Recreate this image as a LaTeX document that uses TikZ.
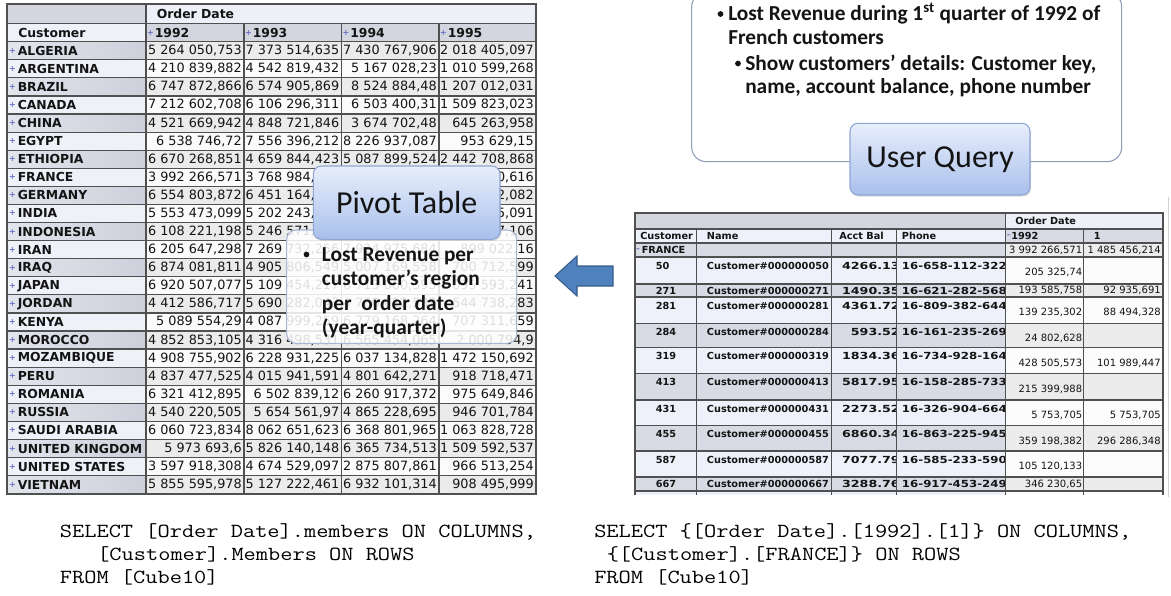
\documentclass[tikz,border=0pt]{standalone}
\usepackage{fontspec}
\usepackage{graphicx}
\usetikzlibrary{shadows}
\newfontfamily\tabfont{DejaVu Sans}
\newfontfamily\calfont{Carlito}

\definecolor{tabrulec}{HTML}{505050}
\definecolor{hdrgrey}{HTML}{D3D5DF}
\definecolor{hdrlight}{HTML}{EEF0F8}
\definecolor{custlight}{HTML}{EFF1F9}
\definecolor{custdarkL}{HTML}{E3E5ED}
\definecolor{custdarkR}{HTML}{CDCFDA}
\definecolor{datagrey}{HTML}{EBEBEB}
\definecolor{datawhite}{HTML}{FBFBFB}
\definecolor{rowlight}{HTML}{EFF1FA}
\definecolor{rowgrey}{HTML}{D8DAE4}
\definecolor{valwhite}{HTML}{FCFCFC}
\definecolor{valgrey}{HTML}{ECECEC}
\definecolor{markblue}{HTML}{6A72C6}
\definecolor{inktext}{HTML}{141414}
\definecolor{arrowfill}{HTML}{4F81BD}
\definecolor{arrowline}{HTML}{385D8A}
\definecolor{titletop}{HTML}{E8EEFB}
\definecolor{titlebot}{HTML}{A9C0EC}
\definecolor{titleline}{HTML}{8EA6D3}
\definecolor{noteline}{HTML}{A7B6D2}
\definecolor{queryline}{HTML}{8E9DB8}
\definecolor{scrollc}{HTML}{D0D0D0}

\tikzset{
  tabrule/.style={draw=tabrulec, line width=0.9pt},
  tabframe/.style={draw=tabrulec, line width=1.4pt},
  cname/.style={font=\tabfont\bfseries\fontsize{9.3}{11}\selectfont, text=inktext, inner sep=0pt, anchor=west},
  cval/.style={font=\tabfont\fontsize{9.6}{11}\selectfont, text=inktext, inner sep=0pt, anchor=east},
  cmark/.style={font=\tabfont\bfseries\fontsize{6}{7}\selectfont, text=markblue, inner sep=0pt},
  rbold/.style={font=\tabfont\bfseries\fontsize{7.3}{9}\selectfont, text=inktext, inner sep=0pt},
  rval/.style={font=\tabfont\fontsize{7.5}{9}\selectfont, text=inktext, inner sep=0pt, anchor=east},
  titlebox/.style={rounded corners=6pt, top color=titletop, bottom color=titlebot, draw=titleline, line width=0.8pt,
    drop shadow={shadow xshift=0.8pt, shadow yshift=-1.2pt, opacity=0.25}},
  titletext/.style={font=\calfont\fontsize{24}{28}\selectfont, text=inktext, inner sep=0pt},
  notebox/.style={rounded corners=7pt, fill=white, fill opacity=0.86, draw=noteline, line width=0.8pt},
  notetext/.style={font=\calfont\bfseries\fontsize{16}{19}\selectfont, text=inktext, inner sep=0pt, anchor=base west},
  notedot/.style={circle, fill=inktext, inner sep=0pt, minimum size=4.3pt},
  codeline/.style={font=\ttfamily\fontsize{15}{18}\selectfont, text=black, inner sep=0pt, anchor=base west},
}

\begin{document}
\begin{tikzpicture}[x=0.75pt,y=-0.75pt]
\useasboundingbox (0,0) rectangle (1171,596);
\fill[white] (0,0) rectangle (1171,596);

% ---------------- pivot table: customers by year ----------------
\fill[hdrgrey] (7,4) rectangle (146,23.3);
\fill[hdrlight] (146,4) rectangle (536,23.3);
\fill[custlight] (7,23.3) rectangle (146,41.7);
\fill[hdrgrey] (146,23.3) rectangle (536,41.7);
\fill[custlight] (7,41.7) rectangle (146,493.7);
\fill[datawhite] (146,41.7) rectangle (536,493.7);
\foreach \i in {0,2,...,24}{
  \fill[left color=custdarkL, right color=custdarkR] (7,{41.7+\i*18.08}) rectangle (146,{41.7+(\i+1)*18.08});
  \fill[datagrey] (146,{41.7+\i*18.08}) rectangle (536,{41.7+(\i+1)*18.08});
}
\foreach \i in {0,...,25} \draw[tabrule] (7,{41.7+\i*18.08}) -- (536,{41.7+\i*18.08});
\draw[tabrule] (7,23.3) -- (536,23.3);
\draw[tabrule] (146,4) -- (146,493.7);
\foreach \x in {244,341.5,439} \draw[tabrule] (\x,23.3) -- (\x,493.7);
\draw[tabframe] (7,4) rectangle (536,493.7);

\node[cname] (hdrdate) at (156.5,13.6) {Order Date};
\node[cname] (hdrcust) at (18,32.5) {Customer};
\foreach \yr/\x [count=\k] in {1992/146,1993/244,1994/341.5,1995/439}{
  \node[cmark] (ym\k) at (\x+4.5,32.5) {+};
  \node[cname] (yr\k) at (\x+8.5,32.5) {\yr};
}

\foreach \cn/\va/\vb/\vc/\vd [count=\i from 0] in {
  ALGERIA/{5 264 050,753}/{7 373 514,635}/{7 430 767,906}/{2 018 405,097},
  ARGENTINA/{4 210 839,882}/{4 542 819,432}/{5 167 028,23}/{1 010 599,268},
  BRAZIL/{6 747 872,866}/{6 574 905,869}/{8 524 884,48}/{1 207 012,031},
  CANADA/{7 212 602,708}/{6 106 296,311}/{6 503 400,31}/{1 509 823,023},
  CHINA/{4 521 669,942}/{4 848 721,846}/{3 674 702,48}/{645 263,958},
  EGYPT/{6 538 746,72}/{7 556 396,212}/{8 226 937,087}/{953 629,15},
  ETHIOPIA/{6 670 268,851}/{4 659 844,423}/{5 087 899,524}/{2 442 708,868},
  FRANCE/{3 992 266,571}/{3 768 984,732}/{4 512 063,415}/{2 121 340,616},
  GERMANY/{6 554 803,872}/{6 451 164,506}/{5 302 118,946}/{1 374 012,082},
  INDIA/{5 553 473,099}/{5 202 243,318}/{6 080 507,162}/{1 215 605,091},
  INDONESIA/{6 108 221,198}/{5 246 571,877}/{6 412 350,725}/{1 387 227,106},
  IRAN/{6 205 647,298}/{7 269 732,256}/{7 924 975,684}/{899 022,16},
  IRAQ/{6 874 081,811}/{4 905 806,549}/{5 007 169,558}/{700 712,599},
  JAPAN/{6 920 507,077}/{5 109 454,217}/{6 713 060,395}/{1 095 593,241},
  JORDAN/{4 412 586,717}/{5 690 282,043}/{4 780 612,539}/{544 738,283},
  KENYA/{5 089 554,29}/{4 087 999,259}/{6 779 168,264}/{707 311,659},
  MOROCCO/{4 852 853,105}/{4 316 498,531}/{6 565 454,065}/{2 000 794,9},
  MOZAMBIQUE/{4 908 755,902}/{6 228 931,225}/{6 037 134,828}/{1 472 150,692},
  PERU/{4 837 477,525}/{4 015 941,591}/{4 801 642,271}/{918 718,471},
  ROMANIA/{6 321 412,895}/{6 502 839,12}/{6 260 917,372}/{975 649,846},
  RUSSIA/{4 540 220,505}/{5 654 561,97}/{4 865 228,695}/{946 701,784},
  SAUDI ARABIA/{6 060 723,834}/{8 062 651,623}/{6 368 801,965}/{1 063 828,728},
  UNITED KINGDOM/{5 973 693,6}/{5 826 140,148}/{6 365 734,513}/{1 509 592,537},
  UNITED STATES/{3 597 918,308}/{4 674 529,097}/{2 875 807,861}/{966 513,254},
  VIETNAM/{5 855 595,978}/{5 127 222,461}/{6 932 101,314}/{908 495,999}}{
  \pgfmathsetmacro{\yc}{50.74+\i*18.08}
  \node[cmark] (lm\i) at (12.5,\yc) {+};
  \node[cname] (ln\i) at (17.5,\yc) {\cn};
  \node[cval] (la\i) at (242,\yc) {\va};
  \node[cval] (lb\i) at (339.5,\yc) {\vb};
  \node[cval] (lc\i) at (437,\yc) {\vc};
  \node[cval] (ld\i) at (534,\yc) {\vd};
}

% ---------------- detail table: French customers ----------------
\fill[hdrgrey] (635,213) rectangle (1005.3,229);
\fill[hdrlight] (1005.3,213) rectangle (1163,229);
\fill[rowlight] (635,229) rectangle (1005.3,243);
\fill[rowgrey] (1005.3,229) rectangle (1163,243);
\fill[rowgrey] (635,243) rectangle (1005.3,257);
\fill[valgrey] (1005.3,243) rectangle (1163,257);
\fill[rowlight] (635,491) rectangle (1005.3,495);
\fill[valwhite] (1005.3,491) rectangle (1163,495);

\node[rbold, anchor=west] (rhdate) at (1015,221) {Order Date};
\node[rbold, anchor=west] (rhcust) at (640,236) {Customer};
\node[rbold, anchor=west] (rhname) at (706.7,236) {Name};
\node[rbold, anchor=east] (rhbal) at (884,236) {Acct Bal};
\node[rbold, anchor=west] (rhphone) at (901.7,236) {Phone};
\node[cmark] (rhyminus) at (1008.5,236) {-};
\node[rbold, anchor=west] (rhyear) at (1011,236) {1992};
\node[rbold, anchor=west] (rhq) at (1093.5,236) {1};
\node[cmark] (rfminus) at (638,250) {-};
\node[rbold, anchor=west] (rfrance) at (641.5,250) {FRANCE};
\node[rval] (rfy) at (1082.5,250) {3 992 266,571};
\node[rval] (rfq) at (1161,250) {1 485 456,214};

\foreach \rk/\rn/\ra/\rp/\rv/\rw/\rt/\rb/\rf/\rg [count=\j] in {
  50/Customer\#000000050/4266.13/16-658-112-3221/{205 325,74}/{}/257/284/rowlight/valwhite,
  271/Customer\#000000271/1490.35/16-621-282-5689/{193 585,758}/{92 935,691}/284/297/rowgrey/valgrey,
  281/Customer\#000000281/4361.72/16-809-382-6446/{139 235,302}/{88 494,328}/297/323.3/rowlight/valwhite,
  284/Customer\#000000284/593.52/16-161-235-2690/{24 802,628}/{}/323.3/347.5/rowgrey/valgrey,
  319/Customer\#000000319/1834.36/16-734-928-1642/{428 505,573}/{101 989,447}/347.5/373.5/rowlight/valwhite,
  413/Customer\#000000413/5817.95/16-158-285-7336/{215 399,988}/{}/373.5/400/rowgrey/valgrey,
  431/Customer\#000000431/2273.52/16-326-904-6643/{5 753,705}/{5 753,705}/400/425.5/rowlight/valwhite,
  455/Customer\#000000455/6860.34/16-863-225-9454/{359 198,382}/{296 286,348}/425.5/451/rowgrey/valgrey,
  587/Customer\#000000587/7077.79/16-585-233-5906/{105 120,133}/{}/451/477/rowlight/valwhite,
  667/Customer\#000000667/3288.76/16-917-453-2490/{346 230,65}/{}/477/491/rowgrey/valgrey}{
  \fill[fill=\rf] (635,\rt) rectangle (1005.3,\rb);
  \fill[fill=\rg] (1005.3,\rt) rectangle (1163,\rb);
  \pgfmathsetmacro{\ykey}{min(\rt+8.5,(\rt+\rb)/2)}
  \pgfmathsetmacro{\yval}{(\rb-\rt>20) ? \rt+15.5 : (\rt+\rb)/2}
  \node[rbold, anchor=west] (rk\j) at (655.5,\ykey) {\rk};
  \node[rbold, anchor=west] (rn\j) at (706.7,\ykey) {\rn};
  \begin{scope}
    \clip (831.7,\rt) rectangle (896,\rb);
    \node[rbold, anchor=east] (ra\j) at (900,\ykey) {\scalebox{1.3}[1]{\ra}};
  \end{scope}
  \begin{scope}
    \clip (896.7,\rt) rectangle (1004.5,\rb);
    \node[rbold, anchor=west] (rp\j) at (901.7,\ykey) {\scalebox{1.21}[1]{\rp}};
  \end{scope}
  \node[rval] (rv\j) at (1082.5,\yval) {\rv};
  \node[rval] (rw\j) at (1161,\yval) {\rw};
}

\foreach \y in {229,243,257,284,297,323.3,347.5,373.5,400,425.5,451,477,491}
  \draw[tabrule] (635,\y) -- (1163,\y);
\foreach \x in {696.7,831.7,896.7,1083.6} \draw[tabrule] (\x,229) -- (\x,495);
\draw[tabrule] (1005.3,213) -- (1005.3,495);
\draw[tabframe] (635,495) -- (635,213) -- (1163,213) -- (1163,495);
\draw[scrollc, line width=0.8pt] (1168.3,197) -- (1168.3,497);

% ---------------- block arrow between the two tables ----------------
\filldraw[fill=arrowfill, draw=arrowline, line width=0.8pt]
  (555,276) -- (577,256) -- (577,266) -- (613,266) -- (613,286) -- (577,286) -- (577,296) -- cycle;

% ---------------- callout on the pivot table ----------------
\path[notebox] (286.7,230) rectangle (516.7,343.3);
\node[notedot] (pbul) at (306.5,254.5) {};
\node[notetext] (pn1) at (321.7,261) {Lost Revenue per};
\node[notetext] (pn2) at (321.7,285.5) {customer’s region};
\node[notetext] (pn3) at (321.7,310) {per\ \ order date};
\node[notetext] (pn4) at (321.7,334.5) {(year-quarter)};
\path[titlebox] (313.3,166) rectangle (500,239.3);
\node[titletext] (pivottitle) at (406.7,202.7) {Pivot Table};

% ---------------- user query callout ----------------
\path[rounded corners=11pt, fill=white, draw=queryline, line width=0.8pt] (691.7,-8) rectangle (1121.7,161.7);
\node[notedot] (qb1) at (720.5,14) {};
\node[notetext] (q1) at (728,20.5) {Lost Revenue during 1\textsuperscript{st} quarter of 1992 of};
\node[notetext] (q2) at (728,44.3) {French customers};
\node[notedot] (qb2) at (738,63.5) {};
\node[notetext] (q3) at (745,70) {Show customers’ details: Customer key,};
\node[notetext] (q4) at (745,93.3) {name, account balance, phone number};
\path[titlebox] (850,123.3) rectangle (1030,195);
\node[titletext] (querytitle) at (940,160) {User Query};

% ---------------- MDX queries ----------------
\node[codeline] (mdxa1) at (59.7,537) {\scalebox{1.185}[1]{SELECT [Order Date].members ON COLUMNS,}};
\node[codeline] (mdxa2) at (97,560) {\scalebox{1.185}[1]{[Customer].Members ON ROWS}};
\node[codeline] (mdxa3) at (59.7,583) {\scalebox{1.185}[1]{FROM [Cube10]}};
\node[codeline] (mdxb1) at (594,537) {\scalebox{1.185}[1]{SELECT \{[Order Date].[1992].[1]\} ON COLUMNS,}};
\node[codeline] (mdxb2) at (606.5,560) {\scalebox{1.185}[1]{\{[Customer].[FRANCE]\} ON ROWS}};
\node[codeline] (mdxb3) at (594,583) {\scalebox{1.185}[1]{FROM [Cube10]}};
\end{tikzpicture}
\end{document}
